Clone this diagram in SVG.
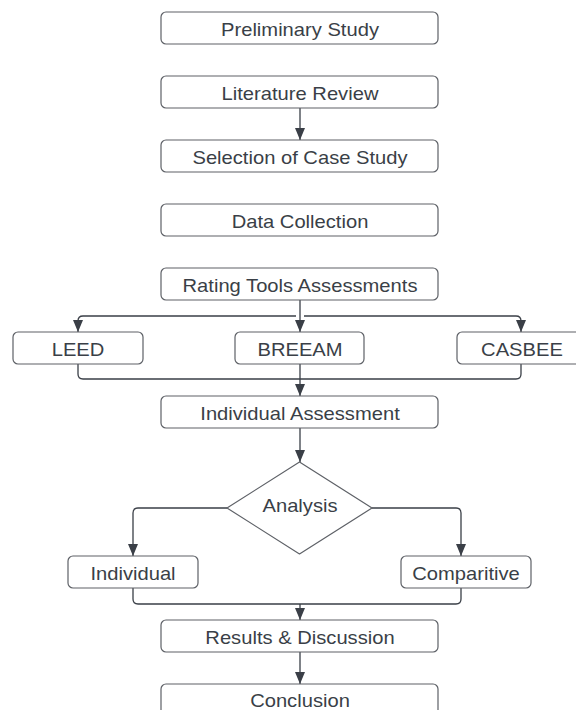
<svg xmlns="http://www.w3.org/2000/svg" width="576" height="710" viewBox="0 0 576 710">
  <style>
    .box { fill: #ffffff; stroke: #5e6167; stroke-width: 1.2; }
    .lbl { font-family: "Liberation Sans", Arial, sans-serif; font-size: 18px; fill: #3a3f47; text-anchor: middle; }
    .wire { fill: none; stroke: #3a3f47; stroke-width: 1.3; }
  </style>
  <defs>
    <marker id="arrow" viewBox="0 0 12 10" refX="12" refY="5" markerWidth="12" markerHeight="10" markerUnits="userSpaceOnUse" orient="auto">
      <path d="M0,0 L12,5 L0,10 Z" fill="#3a3f47"/>
    </marker>
  </defs>
  <rect width="576" height="710" fill="#ffffff"/>

  <g id="connectors">
    <path class="wire" d="M300,108 V140" marker-end="url(#arrow)"/>
    <path class="wire" d="M300,300 V332" marker-end="url(#arrow)"/>
    <path class="wire" d="M296,316 H83 Q78,316 78,321 V332" marker-end="url(#arrow)"/>
    <path class="wire" d="M304,316 H516 Q521,316 521,321 V332" marker-end="url(#arrow)"/>
    <path class="wire" d="M78,364 V374 Q78,379 83,379 H516 Q521,379 521,374 V364"/>
    <path class="wire" d="M300,364 V396" marker-end="url(#arrow)"/>
    <path class="wire" d="M300,428 V462" marker-end="url(#arrow)"/>
    <path class="wire" d="M227,508 H138 Q133,508 133,513 V556" marker-end="url(#arrow)"/>
    <path class="wire" d="M372,508 H456 Q461,508 461,513 V556" marker-end="url(#arrow)"/>
    <path class="wire" d="M133,588 V599 Q133,604 138,604 H456 Q461,604 461,599 V588"/>
    <path class="wire" d="M300,604 V620" marker-end="url(#arrow)"/>
    <path class="wire" d="M300,652 V684" marker-end="url(#arrow)"/>
  </g>

  <!-- labels are widened slightly with a horizontal scale -->
  <g id="preliminary-study">
    <rect class="box" x="161" y="12" width="277" height="32" rx="5"/>
    <text class="lbl" transform="translate(300,36) scale(1.12,1)">Preliminary Study</text>
  </g>
  <g id="literature-review">
    <rect class="box" x="161" y="76" width="277" height="32" rx="5"/>
    <text class="lbl" transform="translate(300,100) scale(1.12,1)">Literature Review</text>
  </g>
  <g id="case-study">
    <rect class="box" x="161" y="140" width="277" height="32" rx="5"/>
    <text class="lbl" transform="translate(300,164) scale(1.12,1)">Selection of Case Study</text>
  </g>
  <g id="data-collection">
    <rect class="box" x="161" y="204" width="277" height="32" rx="5"/>
    <text class="lbl" transform="translate(300,228) scale(1.12,1)">Data Collection</text>
  </g>
  <g id="rating-tools">
    <rect class="box" x="161" y="268" width="277" height="32" rx="5"/>
    <text class="lbl" transform="translate(300,292) scale(1.12,1)">Rating Tools Assessments</text>
  </g>
  <g id="leed">
    <rect class="box" x="13" y="332" width="130" height="32" rx="5"/>
    <text class="lbl" transform="translate(78,356) scale(1.12,1)">LEED</text>
  </g>
  <g id="breeam">
    <rect class="box" x="235" y="332" width="129" height="32" rx="5"/>
    <text class="lbl" transform="translate(300,356) scale(1.12,1)">BREEAM</text>
  </g>
  <g id="casbee">
    <rect class="box" x="457" y="332" width="130" height="32" rx="5"/>
    <text class="lbl" transform="translate(522,356) scale(1.12,1)">CASBEE</text>
  </g>
  <g id="individual-assessment">
    <rect class="box" x="161" y="396" width="277" height="32" rx="5"/>
    <text class="lbl" transform="translate(300,420) scale(1.12,1)">Individual Assessment</text>
  </g>
  <g id="analysis">
    <path class="box" d="M299.5,462 L372,508 L299.5,554 L227,508 Z" stroke-linejoin="round"/>
    <text class="lbl" transform="translate(300,512) scale(1.12,1)">Analysis</text>
  </g>
  <g id="individual">
    <rect class="box" x="68" y="556" width="130" height="32" rx="5"/>
    <text class="lbl" transform="translate(133,580) scale(1.12,1)">Individual</text>
  </g>
  <g id="comparitive">
    <rect class="box" x="401" y="556" width="130" height="32" rx="5"/>
    <text class="lbl" transform="translate(466,580) scale(1.12,1)">Comparitive</text>
  </g>
  <g id="results">
    <rect class="box" x="161" y="620" width="277" height="32" rx="5"/>
    <text class="lbl" transform="translate(300,644) scale(1.12,1)">Results &amp; Discussion</text>
  </g>
  <g id="conclusion">
    <rect class="box" x="161" y="684" width="277" height="32" rx="5"/>
    <text class="lbl" transform="translate(300,707) scale(1.12,1)">Conclusion</text>
  </g>
</svg>
